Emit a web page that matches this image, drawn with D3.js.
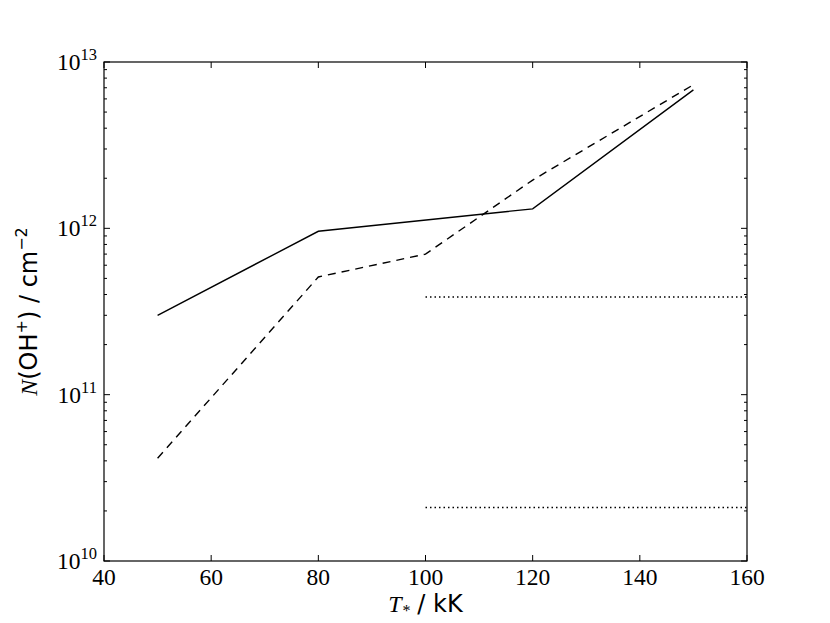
<!DOCTYPE html>
<html lang="en">
<head>
<meta charset="UTF-8">
<title>N(OH+) vs T*</title>
<script src="https://cdn.jsdelivr.net/npm/d3@7"></script>
<style>
  body { margin: 0; background: #fff; }
</style>
</head>
<body>
<script>
    // data
    var tStar = [50, 80, 100, 120, 150];
    var solidN = [3.0e11, 9.6e11, null, 1.31e12, 6.8e12];
    var dashedN = [4.15e10, 5.1e11, 7.0e11, 1.95e12, 7.3e12];
    var dottedLevels = [3.87e11, 2.1e10];
    var dottedRange = [100, 160];
    var xTicks = [40, 60, 80, 100, 120, 140, 160];
    var yTicks = [10, 11, 12, 13];

    var width = 830, height = 623;
    var margin = {left: 104, right: 83, top: 62, bottom: 62};

    var svg = d3.select('body').append('svg')
            .attr('width', width)
            .attr('height', height);

    var x = d3.scaleLinear().domain([40, 160]).range([margin.left, width - margin.right]);
    var y = d3.scaleLog().domain([1e10, 1e13]).range([height - margin.bottom, margin.top]);

    var serif = "'Liberation Serif', 'DejaVu Serif', serif";
    var sans = "'DejaVu Sans', sans-serif";

    // frame
    svg.append('rect')
        .attr('x', x(40)).attr('y', y(1e13))
        .attr('width', x(160) - x(40)).attr('height', y(1e10) - y(1e13))
        .attr('fill', 'none').attr('stroke', '#000').attr('stroke-width', 1.2);

    // x ticks (inward, bottom and top)
    var gx = svg.append('g');
    xTicks.forEach(function (t) {
        gx.append('line').attr('x1', x(t)).attr('x2', x(t))
            .attr('y1', y(1e10)).attr('y2', y(1e10) - 6).attr('stroke', '#000');
        gx.append('line').attr('x1', x(t)).attr('x2', x(t))
            .attr('y1', y(1e13)).attr('y2', y(1e13) + 6).attr('stroke', '#000');
        gx.append('text').attr('x', x(t)).attr('y', y(1e10) + 24)
            .attr('text-anchor', 'middle')
            .style('font-family', serif).style('font-size', '23.5px')
            .text(t);
    });

    // y ticks: majors and log minors on both sides
    var gy = svg.append('g');
    yTicks.forEach(function (e) {
        var v = Math.pow(10, e);
        [x(40), x(160)].forEach(function (xx, i) {
            var d = i === 0 ? 1 : -1;
            gy.append('line').attr('x1', xx).attr('x2', xx + d * 6)
                .attr('y1', y(v)).attr('y2', y(v)).attr('stroke', '#000');
        });
        var lab = gy.append('text').attr('x', x(40) - 7).attr('y', y(v) + 8)
            .attr('text-anchor', 'end')
            .style('font-family', serif).style('font-size', '23.5px');
        lab.append('tspan').text('10');
        lab.append('tspan').attr('dy', -10).style('font-size', '16.5px').text(e);
        if (e < 13) {
            for (var m = 2; m <= 9; m++) {
                var mv = m * v;
                [x(40), x(160)].forEach(function (xx, i) {
                    var d = i === 0 ? 1 : -1;
                    gy.append('line').attr('x1', xx).attr('x2', xx + d * 3)
                        .attr('y1', y(mv)).attr('y2', y(mv)).attr('stroke', '#000');
                });
            }
        }
    });

    // series
    var line = d3.line()
        .defined(function (d) { return d[1] != null; })
        .x(function (d) { return x(d[0]); })
        .y(function (d) { return y(d[1]); });

    var solidPts = tStar.map(function (t, i) { return [t, solidN[i]]; })
        .filter(function (d) { return d[1] != null; });
    var dashedPts = tStar.map(function (t, i) { return [t, dashedN[i]]; });

    svg.append('path').datum(solidPts).attr('d', line)
        .attr('fill', 'none').attr('stroke', '#000').attr('stroke-width', 1.4);
    svg.append('path').datum(dashedPts).attr('d', line)
        .attr('fill', 'none').attr('stroke', '#000').attr('stroke-width', 1.4)
        .attr('stroke-dasharray', '8,6');

    dottedLevels.forEach(function (v) {
        svg.append('path').datum([[dottedRange[0], v], [dottedRange[1], v]]).attr('d', line)
            .attr('fill', 'none').attr('stroke', '#000').attr('stroke-width', 1.5)
            .attr('stroke-dasharray', '1.5,3');
    });

    // axis labels
    var xl = svg.append('text').attr('x', (x(40) + x(160)) / 2).attr('y', 612)
        .attr('text-anchor', 'middle').style('font-size', '24px');
    xl.append('tspan').style('font-family', serif).style('font-style', 'italic').text('T');
    xl.append('tspan').style('font-family', serif).style('font-style', 'italic')
        .style('font-size', '16px').attr('dy', 4).text('*');
    xl.append('tspan').style('font-family', sans).attr('dy', -4).text(' / kK');

    var yl = svg.append('text')
        .attr('transform', 'translate(37,' + ((y(1e10) + y(1e13)) / 2) + ') rotate(-90)')
        .attr('text-anchor', 'middle').style('font-size', '24px');
    yl.append('tspan').style('font-family', serif).style('font-style', 'italic').text('N');
    yl.append('tspan').style('font-family', sans).text('(OH');
    yl.append('tspan').style('font-family', sans).style('font-size', '16px').attr('dy', -10).text('+');
    yl.append('tspan').style('font-family', sans).attr('dy', 10).text(') / cm');
    yl.append('tspan').style('font-family', sans).style('font-size', '16px').attr('dy', -10).text('\u22122');
</script>
</body>
</html>
